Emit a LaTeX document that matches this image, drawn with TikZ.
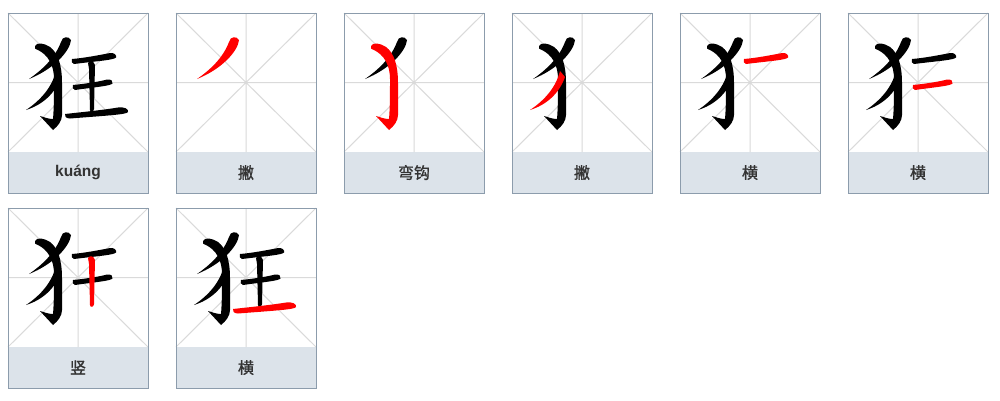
\documentclass[tikz,border=0pt]{standalone}
\usepackage{fontspec}
\setmainfont{Liberation Sans}
\newfontfamily\cjk[AutoFakeBold=1.2]{Noto Sans CJK SC}
\definecolor{cardline}{RGB}{140,156,172}
\definecolor{bandfill}{RGB}{220,227,234}
\definecolor{gridline}{RGB}{218,218,218}
\definecolor{txt}{RGB}{51,51,51}
\definecolor{hlred}{RGB}{255,0,0}
\tikzset{
  band/.style={fill=bandfill},
  gridl/.style={draw=gridline,line width=1pt},
  cardborder/.style={draw=cardline,line width=1pt},
  lbl/.style={text=txt,font=\bfseries\fontsize{15.5}{17}\selectfont,inner sep=0pt},
  blk/.style={fill=black},
  hl/.style={fill=hlred}
}
\newcommand{\stkA}[1]{\fill[#1] (21,66) .. controls (34,57) and (47,45) .. (53,29) .. controls (54,23) and (61,23) .. (63,27) .. controls (62,38) and (46,56) .. (21,66) -- cycle;}
\newcommand{\stkB}[1]{\fill[#1] (27,33) .. controls (29,29) and (36,30) .. (42,34) .. controls (50,40) and (54,52) .. (54,70) -- (54,102) .. controls (54,108) and (50,113) .. (45,117) -- (32,103) .. controls (36,104) and (40,106) .. (45,106) .. controls (46,95) and (46,80) .. (46,66) .. controls (46,52) and (40,42) .. (30,37) .. controls (27,36) and (26,35) .. (27,33) -- cycle;}
\newcommand{\stkC}[1]{\fill[#1] (48,58) .. controls (44,74) and (33,87) .. (18,97) .. controls (34,92) and (47,81) .. (53,64) -- cycle;}
\newcommand{\stkD}[1]{\fill[#1] (64,46) .. controls (76,45) and (92,42) .. (102,40) .. controls (106,39.5) and (109,42) .. (108,44.5) .. controls (106,47) and (90,48) .. (66,51) .. controls (64,51) and (63,48) .. (64,46) -- cycle;}
\newcommand{\stkE}[1]{\fill[#1] (65,72) .. controls (75,71) and (90,69) .. (99,66.5) .. controls (103,66) and (105.5,68) .. (104.5,70.5) .. controls (102,73) and (88,74) .. (67,77) .. controls (65,77) and (64,74) .. (65,72) -- cycle;}
\newcommand{\stkF}[1]{\fill[#1] (80,50) .. controls (82,47) and (86,48) .. (87,52) -- (86,96) .. controls (86,99) and (82,100) .. (82,97) -- (81,56) .. controls (81,54) and (80,52) .. (80,50) -- cycle;}
\newcommand{\stkG}[1]{\fill[#1] (57,101) .. controls (75,99) and (95,97) .. (110,94.5) .. controls (116,93.5) and (121,96) .. (120,99) .. controls (119,101.5) and (100,102.5) .. (62,105.5) .. controls (58,105.5) and (56,103) .. (57,101) -- cycle;}
\newcommand{\card}[4]{%
  \begin{scope}[shift={(#1,#2)}]
    \fill[band] (0,139) rectangle (140,180);
    \draw[gridl] (70,0) -- (70,139) (0,69.5) -- (140,69.5) (0,0) -- (140,139) (140,0) -- (0,139);
    \draw[cardborder] (0,0) rectangle (140,180);
    \node[lbl] (#3) at (70,159.5) {#4};
  \end{scope}}
\begin{document}
\begin{tikzpicture}[x=1pt,y=-1pt]
\useasboundingbox[fill=white] (0,0) rectangle (1000,400);
\card{8}{13}{c1}{kuáng}
\card{176}{13}{c2}{\cjk\fontsize{16}{18}\selectfont 撇}
\card{344}{13}{c3}{\cjk\fontsize{16}{18}\selectfont 弯钩}
\card{512}{13}{c4}{\cjk\fontsize{16}{18}\selectfont 撇}
\card{680}{13}{c5}{\cjk\fontsize{16}{18}\selectfont 横}
\card{848}{13}{c6}{\cjk\fontsize{16}{18}\selectfont 横}
\card{8}{208}{c7}{\cjk\fontsize{16}{18}\selectfont 竖}
\card{176}{208}{c8}{\cjk\fontsize{16}{18}\selectfont 横}
\begin{scope}[shift={(8,13)}]
  \stkA{blk}\stkB{blk}\stkC{blk}\stkD{blk}\stkE{blk}\stkF{blk}\stkG{blk}
\end{scope}
\begin{scope}[shift={(176,13)}]
  \stkA{hl}
\end{scope}
\begin{scope}[shift={(344,13)}]
  \stkA{blk}\stkB{hl}
\end{scope}
\begin{scope}[shift={(512,13)}]
  \stkA{blk}\stkB{blk}\stkC{hl}
\end{scope}
\begin{scope}[shift={(680,13)}]
  \stkA{blk}\stkB{blk}\stkC{blk}\stkD{hl}
\end{scope}
\begin{scope}[shift={(848,13)}]
  \stkA{blk}\stkB{blk}\stkC{blk}\stkD{blk}\stkE{hl}
\end{scope}
\begin{scope}[shift={(8,208)}]
  \stkA{blk}\stkB{blk}\stkC{blk}\stkD{blk}\stkE{blk}\stkF{hl}
\end{scope}
\begin{scope}[shift={(176,208)}]
  \stkA{blk}\stkB{blk}\stkC{blk}\stkD{blk}\stkE{blk}\stkF{blk}\stkG{hl}
\end{scope}
\end{tikzpicture}
\end{document}
